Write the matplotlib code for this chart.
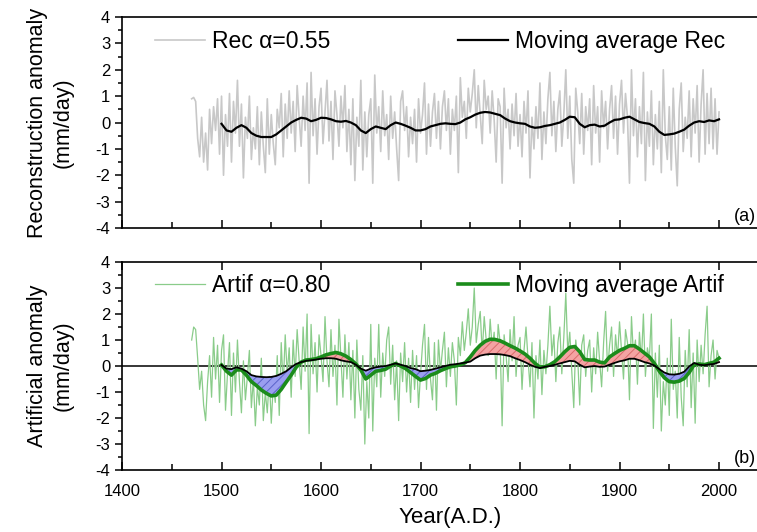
import numpy as np
import matplotlib
matplotlib.use('Agg')
import matplotlib.pyplot as plt
from matplotlib.ticker import MultipleLocator

plt.rcParams['font.family'] = ['Liberation Sans', 'DejaVu Sans']
plt.rcParams['hatch.linewidth'] = 0.7
plt.rcParams['axes.unicode_minus'] = False

# annual series, read every 2 years (1470-2000)
raw_years = np.arange(1470, 2001, 2)
rec_raw = [
    0.9, 0.95, 0.8, -0.6, -1.3, 0.2, -1.5, -0.4, -1.8, 0.5,
    -0.8, 0.6, -0.3, 0.9, -1.2, 1.0, -2.0, 0.3, -0.9, 1.1,
    -1.5, 0.8, -0.4, 1.6, -0.9, 0.7, -2.1, 0.2, -0.6, 1.0,
    -1.4, -0.2, -1.0, 0.6, -1.6, 0.4, -0.9, -1.9, 0.9, -1.2,
    0.3, -0.8, -1.6, 0.5, -0.2, 1.1, -1.3, 0.7, -0.6, 1.2,
    -0.4, 0.8, -1.1, 1.4, 0.2, -0.9, 1.0, -0.3, 1.5, -2.3,
    1.9, -0.5, 0.9, -1.2, 0.6, 1.3, -0.8, 0.4, 1.6, -0.7,
    0.8, -1.4, 1.2, 0.3, -0.9, 1.0, -0.2, 1.4, -1.1, 0.5,
    -1.6, 0.9, -2.2, 0.2, -0.9, 1.6, -1.8, 0.4, -1.3, 0.3,
    0.9, -2.3, 1.8, -0.4, 0.6, -1.1, 1.2, -0.5, 0.3, -1.4,
    1.0, -0.6, 0.4, -1.0, -2.2, 0.8, 1.2, -0.3, 0.6, -1.3,
    0.2, -0.8, 0.5, -1.5, 0.9, -0.4, 0.3, 1.5, -1.2, 0.7,
    -0.9, 0.4, 1.1, -0.6, 0.8, -1.0, 0.6, 1.2, -0.3, 0.9,
    -1.2, 0.5, -0.3, 1.0, -1.9, 1.7, 0.2, 0.8, -0.6, 1.3,
    0.4, 1.1, 2.0, -0.2, 1.4, 0.3, -0.8, 1.6, 0.5, 1.0,
    -0.4, 1.2, 0.1, -1.5, 0.9, 0.6, -2.3, 1.3, -0.2, 0.5,
    -1.0, 0.7, -0.5, 1.1, -0.9, 0.3, -1.3, 0.8, -0.4, 1.2,
    -2.1, 0.2, -1.0, 0.6, -0.6, 1.5, -1.4, 0.4, -0.8, 0.9,
    1.9, -0.5, 0.8, -1.1, 0.5, 1.2, -0.9, 0.3, 2.0, -0.6,
    1.0, -1.4, -2.3, 1.3, 0.4, -0.8, 1.1, -1.2, 0.6, -0.3,
    0.9, -1.6, 1.4, -0.4, 0.6, -1.5, 1.2, -0.2, 0.8, -1.0,
    0.5, 1.4, -0.6, 1.0, -1.2, 0.7, 1.6, -0.4, 1.1, 0.2,
    -2.3, 2.0, -0.5, 0.9, -1.3, 0.6, -0.8, 1.9, -2.2, 0.4,
    -0.9, 1.2, -1.6, 0.3, -1.0, 0.8, -1.9, 2.0, -0.5, -1.4,
    0.6, -1.8, 1.3, -0.9, -2.4, 0.5, 1.5, -1.1, 0.2, -0.6,
    1.2, -1.3, 0.9, -0.4, 1.4, -1.5, 0.7, 2.0, -1.2, 1.1,
    -0.8, 1.3, -1.0, 0.9, -1.2, 0.4,
]
artif_raw = [
    1.0, 1.5, 1.4, 0.3, -0.9, -0.2, -1.5, -2.1, -0.6, 0.4,
    -1.2, 1.1, -0.5, 0.8, -1.4, 0.6, 1.2, -1.7, -0.3, 0.9,
    -1.9, 0.5, -1.0, 1.0, -0.6, -1.8, 0.2, -1.3, -0.4, 0.6,
    -1.6, -0.5, -2.3, -0.8, -1.5, 0.3, -2.1, -1.0, -1.8, -0.4,
    -2.2, -0.7, -1.4, 0.4, -1.9, 0.9, -0.8, 1.2, -0.3, 0.7,
    -1.2, 1.0, -0.4, 1.4, 0.2, -0.9, 1.5, -0.2, 2.0, -2.6,
    1.6, -0.3, 0.9, -1.0, 1.2, 0.4, -0.6, 1.9, 0.2, -0.8,
    1.4, -0.4, 0.8, -1.5, 1.8, 0.3, -1.2, 1.2, -0.5, 0.9,
    -1.3, 0.6, -2.0, 1.0, -0.9, -1.7, 0.4, -3.0, -0.6, -2.0,
    1.6, -2.5, 0.3, -0.8, 1.6, -1.2, 0.5, -0.4, 1.0, 1.5,
    -0.7, 0.8, -1.3, 0.2, -2.1, 0.5, -0.6, 0.9, -1.0, 0.3,
    -1.4, 0.6, -0.9, 0.4, -1.6, -0.3, 0.8, 1.6, -0.9, 1.1,
    -0.5, -1.3, 0.9, -1.7, 1.0, -0.2, 0.6, 1.3, -0.8, 0.7,
    -0.4, 0.9, 0.2, -1.5, 1.1, 0.4, 1.7, 0.6, 1.3, 2.2,
    0.8, 1.5, 3.0, 0.9, 1.6, 2.1, 0.5, 1.9, 1.0, 0.4,
    1.8, 0.7, 1.3, -0.5, 1.6, 0.9, -2.3, 1.2, 0.4, -0.6,
    1.4, 0.2, 1.9, -0.4, 0.8, 1.1, -0.9, 0.6, 1.5, 0.3,
    -0.8, 0.9, -2.0, 0.4, -0.5, 1.0, -1.1, 0.6, -0.3, 0.8,
    2.3, 0.4, 1.2, -0.6, 0.9, 1.5, -0.3, 1.1, 2.8, 0.5,
    1.3, -0.2, -1.6, 1.0, 0.3, -1.5, 0.8, 1.2, -0.4, 0.6,
    1.0, -1.0, 0.7, -0.3, 1.3, 0.2, -0.8, 0.9, 2.1, -0.2,
    0.8, 1.5, -0.4, 1.2, 0.3, 1.7, 0.6, -0.5, 1.4, 0.9,
    -1.3, 1.9, 0.4, 1.0, -0.7, 1.3, 0.2, 2.0, -0.4, 0.7,
    0.3, 2.0, -2.4, 0.5, -1.2, 0.8, -2.5, -0.6, -1.5, 0.3,
    -1.9, 1.8, -0.9, -0.2, -2.0, 1.1, -1.2, -2.3, 0.6, -0.8,
    1.4, -1.6, 0.5, -2.2, 1.0, -0.6, 0.8, -0.3, 1.2, 2.3,
    -0.8, 0.4, 1.0, -0.5, 0.6, 0.3,
]

# moving averages, read every 5 years (1500-2000)
ma_years = np.arange(1500, 2001, 5)
rec_ma = [
    -0.05, -0.3, -0.35, -0.2, -0.1, -0.2, -0.4, -0.5, -0.55, -0.55,
    -0.55, -0.45, -0.3, -0.15, 0.0, 0.1, 0.18, 0.15, 0.05, 0.1,
    0.18, 0.17, 0.12, 0.05, 0.03, 0.06, 0.0, -0.1, -0.3, -0.4,
    -0.25, -0.15, -0.2, -0.25, -0.1, 0.0, -0.05, -0.12, -0.2, -0.3,
    -0.3, -0.25, -0.15, -0.1, -0.05, -0.03, -0.05, -0.06, 0.0, 0.12,
    0.2, 0.3, 0.37, 0.4, 0.38, 0.33, 0.28, 0.15, 0.05, 0.0,
    -0.03, -0.05, -0.15, -0.2, -0.18, -0.13, -0.1, -0.05, 0.0, 0.1,
    0.22, 0.2, -0.05, -0.18, -0.1, -0.08, -0.15, -0.12, 0.0, 0.1,
    0.12, 0.18, 0.22, 0.12, 0.02, -0.02, -0.05, -0.15, -0.35, -0.47,
    -0.45, -0.42, -0.35, -0.27, -0.12, 0.0, 0.05, 0.02, 0.08, 0.05,
    0.12,
]
artif_ma = [
    0.04, -0.2, -0.35, -0.15, -0.15, -0.35, -0.6, -0.75, -0.92, -1.05,
    -1.15, -1.12, -0.9, -0.62, -0.35, -0.05, 0.15, 0.23, 0.25, 0.28,
    0.35, 0.43, 0.48, 0.52, 0.47, 0.38, 0.25, 0.08, -0.15, -0.5,
    -0.35, -0.2, -0.17, -0.12, 0.0, 0.1, 0.0, -0.1, -0.25, -0.4,
    -0.54, -0.48, -0.35, -0.28, -0.18, -0.1, -0.03, 0.0, 0.05, 0.13,
    0.35, 0.6, 0.8, 0.95, 1.03, 1.02, 0.97, 0.88, 0.78, 0.69,
    0.58, 0.46, 0.3, 0.1, -0.04, -0.03, 0.05, 0.17, 0.35, 0.55,
    0.72, 0.75, 0.55, 0.25, 0.23, 0.23, 0.15, 0.12, 0.35, 0.48,
    0.6, 0.68, 0.78, 0.78, 0.65, 0.5, 0.35, 0.1, -0.2, -0.45,
    -0.6, -0.62, -0.58, -0.48, -0.25, 0.05, 0.08, 0.05, 0.1, 0.15,
    0.3,
]
# black reference curve drawn in panel (b)
base_ma = [
    0.04, -0.1, -0.12, -0.05, -0.1, -0.2, -0.35, -0.4, -0.42, -0.43,
    -0.42, -0.38, -0.3, -0.2, -0.05, 0.08, 0.15, 0.2, 0.22, 0.25,
    0.28, 0.3, 0.3, 0.28, 0.22, 0.18, 0.15, 0.05, -0.1, -0.18,
    -0.1, -0.05, -0.02, 0.0, 0.05, 0.1, 0.05, 0.0, -0.08, -0.12,
    -0.2, -0.18, -0.15, -0.1, -0.05, 0.0, 0.05, 0.07, 0.1, 0.13,
    0.17, 0.3, 0.4, 0.44, 0.46, 0.46, 0.45, 0.42, 0.38, 0.3,
    0.23, 0.15, 0.05, -0.03, -0.08, -0.03, 0.0, 0.05, 0.1, 0.15,
    0.2, 0.18, 0.05, -0.05, -0.02, 0.0, -0.03, -0.02, 0.05, 0.12,
    0.18, 0.22, 0.28, 0.28, 0.22, 0.15, 0.1, 0.02, -0.12, -0.25,
    -0.32, -0.33, -0.3, -0.22, -0.02, 0.12, 0.05, 0.03, 0.06, 0.08,
    0.15,
]

artif_ma = np.array(artif_ma)
base_ma = np.array(base_ma)

fig = plt.figure(figsize=(7.57, 5.32), dpi=100)
W = 660 * 0.995 / 757
ax1 = fig.add_axes([0.1612, 0.5714, W, 0.3966])
ax2 = fig.add_axes([0.1612, 0.1165, W, 0.391])

# (a) reconstruction
ax1.plot(raw_years, rec_raw, color='#c8c8c8', lw=1.2, label='Rec α=0.55')
ax1.plot(ma_years, rec_ma, color='black', lw=1.6, label='Moving average Rec')

# (b) artificial
ax2.axhline(0, color='black', lw=1.1, zorder=1)
ax2.plot(raw_years, artif_raw, color='#8acc8a', lw=0.9, label='Artif α=0.80', zorder=2)
ax2.fill_between(ma_years, artif_ma, base_ma, where=artif_ma >= base_ma, interpolate=True,
                 facecolor='#f4a3a3', edgecolor='#d86a6a', hatch='////', lw=0, zorder=3)
ax2.fill_between(ma_years, artif_ma, base_ma, where=artif_ma <= base_ma, interpolate=True,
                 facecolor='#9a9ef0', edgecolor='#5a62c8', hatch='////', lw=0, zorder=3)
ax2.plot(ma_years, artif_ma, color='#1b8c1b', lw=2.6, label='Moving average Artif', zorder=4)
ax2.plot(ma_years, base_ma, color='black', lw=1.3, zorder=5)

for ax, lab, tag in [(ax1, 'Reconstruction anomaly\n(mm/day)', '(a)'),
                     (ax2, 'Artificial anomaly\n(mm/day)', '(b)')]:
    ax.set_xlim(1400, 2060)
    ax.set_ylim(-4, 4)
    ax.yaxis.set_major_locator(MultipleLocator(1))
    ax.yaxis.set_minor_locator(MultipleLocator(0.5))
    ax.xaxis.set_major_locator(MultipleLocator(100))
    ax.xaxis.set_minor_locator(MultipleLocator(50))
    ax.tick_params(axis='y', which='both', direction='out', left=True, right=False,
                   labelsize=12, width=1.1)
    ax.tick_params(axis='y', which='major', length=5)
    ax.tick_params(axis='y', which='minor', length=3)
    ax.tick_params(axis='x', which='both', direction='in', width=1.1, labelsize=12, pad=10)
    ax.tick_params(axis='x', which='major', length=6)
    ax.tick_params(axis='x', which='minor', length=4)
    ax.spines['right'].set_visible(False)
    for s in ax.spines.values():
        s.set_linewidth(1.2)
    ax.set_ylabel(lab, fontsize=15.5, labelpad=16, linespacing=1.25)
    ax.text(2015, -3.55, tag, fontsize=13, va='center')
    ax.legend(loc='upper left', bbox_to_anchor=(0.05, 0.94), ncol=2, frameon=False,
              fontsize=16.5, handlelength=2.2, handletextpad=0.3, columnspacing=5.55,
              borderaxespad=0, borderpad=0)

ax1.tick_params(axis='x', top=False, bottom=True, labelbottom=False)
ax2.tick_params(axis='x', top=True, bottom=True)
ax2.set_xlabel('Year(A.D.)', fontsize=16, labelpad=6)

fig.savefig('out.png', dpi=100)
